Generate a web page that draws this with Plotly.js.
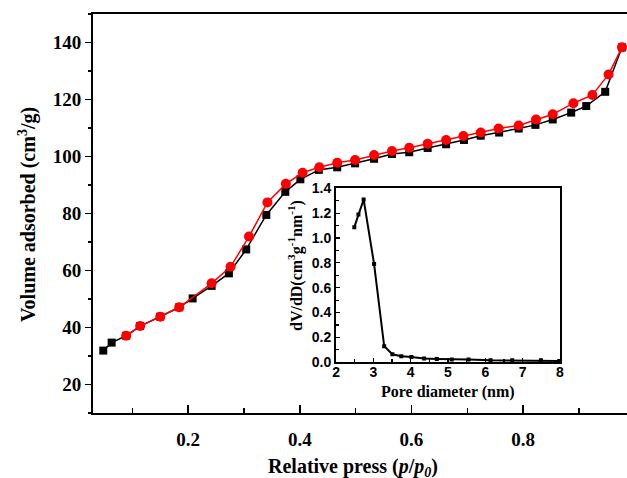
<!DOCTYPE html>
<html><head><meta charset="utf-8">
<script src="https://cdn.plot.ly/plotly-3.0.1.min.js"></script>
<style>body{margin:0;background:#fff}</style>
</head><body>
<div id="chart" style="width:627px;height:478px"></div>
<script>
// Adsorption branch (black squares)
const adsP = [0.048,0.063,0.089,0.114,0.150,0.184,0.208,0.242,0.273,0.304,0.340,0.374,0.401,0.434,0.467,0.499,0.533,0.565,0.596,0.629,0.662,0.694,0.724,0.757,0.792,0.822,0.853,0.886,0.913,0.947,0.977];
const adsV = [31.9,34.7,37.1,40.5,43.8,47.1,50.2,54.6,59.0,67.4,79.5,87.6,92.0,95.3,96.2,97.6,99.2,100.9,101.5,103.0,104.3,105.8,107.3,108.4,109.8,111.1,113.0,115.4,117.7,122.7,138.3];
// Desorption branch (red circles)
const desP = [0.089,0.114,0.150,0.184,0.242,0.276,0.309,0.342,0.375,0.405,0.435,0.467,0.499,0.533,0.565,0.596,0.629,0.662,0.693,0.724,0.756,0.792,0.823,0.853,0.890,0.924,0.953,0.977];
const desV = [37.1,40.5,43.8,47.1,55.5,61.3,71.9,83.9,90.4,94.3,96.2,97.8,98.8,100.5,101.9,103.1,104.5,105.8,107.2,108.4,109.8,110.9,113.0,114.8,118.7,121.6,128.8,138.3];
// Pore size distribution (inset)
const poreD = [2.49,2.60,2.74,3.02,3.29,3.51,3.75,4.02,4.36,4.70,5.10,5.55,6.14,6.72,7.49,7.98];
const poreV = [1.087,1.19,1.31,0.79,0.13,0.065,0.049,0.043,0.030,0.027,0.022,0.022,0.016,0.016,0.016,0.010];

const serif = 'Liberation Serif, Times New Roman, serif';
const sans = 'Liberation Sans, Arial, sans-serif';

const traces = [
  {x: adsP, y: adsV, type:'scatter', mode:'lines+markers', xaxis:'x', yaxis:'y',
   line:{color:'#000', width:1.5}, marker:{symbol:'square', size:8, color:'#000'}},
  {x: desP, y: desV, type:'scatter', mode:'lines+markers', xaxis:'x', yaxis:'y',
   line:{color:'#ff0000', width:1.5}, marker:{symbol:'circle', size:10, color:'#ff0000'}},
  {x: poreD, y: poreV, type:'scatter', mode:'lines+markers', xaxis:'x2', yaxis:'y2',
   line:{color:'#000', width:2}, marker:{symbol:'square', size:4, color:'#000'}}
];

const layout = {
  width:627, height:478,
  margin:{l:93, r:0, t:14, b:65},
  paper_bgcolor:'#fff', plot_bgcolor:'#fff',
  showlegend:false,
  xaxis:{range:[0.0296,0.986], showgrid:false, zeroline:false, showline:true, linewidth:2, linecolor:'#000', mirror:true,
    ticks:'inside', ticklen:8, tickwidth:1.5, tickcolor:'#000', tick0:0, dtick:0.2, tickformat:'.1f',
    minor:{dtick:0.1, tick0:0, ticks:'inside', ticklen:5, tickwidth:1.5, tickcolor:'#000'},
    tickfont:{family:serif, size:19, color:'#000', weight:'bold'}, ticklabelstandoff:8},
  yaxis:{range:[10,150], showgrid:false, zeroline:false, showline:true, linewidth:2, linecolor:'#000', mirror:false,
    ticks:'outside', ticklen:6, tickwidth:1.5, tickcolor:'#000', tick0:0, dtick:20,
    minor:{dtick:10, tick0:0, ticks:'outside', ticklen:3, tickwidth:1.5, tickcolor:'#000'},
    tickfont:{family:serif, size:19, color:'#000', weight:'bold'}},
  xaxis2:{domain:[0.4551,0.8745], anchor:'y2', range:[2,8], showgrid:false, zeroline:false, showline:true, linewidth:2, linecolor:'#000', mirror:true,
    ticks:'inside', ticklen:4, tickwidth:1.2, tickcolor:'#000', tick0:0, dtick:1,
    minor:{dtick:0.5, tick0:0, ticks:'inside', ticklen:3, tickwidth:1.2, tickcolor:'#000'},
    tickfont:{family:sans, size:14, color:'#000', weight:'bold'}, ticklabelstandoff:-4},
  yaxis2:{domain:[0.1271,0.5632], anchor:'x2', range:[0,1.4], showgrid:false, zeroline:false, showline:true, linewidth:2, linecolor:'#000', mirror:true,
    ticks:'inside', ticklen:4, tickwidth:1.2, tickcolor:'#000', tick0:0, dtick:0.2, tickformat:'.1f',
    minor:{dtick:0.1, tick0:0, ticks:'inside', ticklen:3, tickwidth:1.2, tickcolor:'#000'},
    tickfont:{family:sans, size:14, color:'#000', weight:'bold'}, ticklabelstandoff:0},
  annotations:[
    {text:'<b>Volume adsorbed (cm<sup>3</sup>/g)</b>', xref:'paper', yref:'paper', x:-0.1236, y:0.4987,
     xanchor:'center', yanchor:'middle', textangle:-90, showarrow:false, font:{family:serif, size:20, color:'#000'}},
    {text:'<b>Relative press (<i>p</i>/<i>p</i><sub><i>0</i></sub>)</b>', xref:'paper', yref:'paper', x:0.4869, y:-0.136,
     xanchor:'center', yanchor:'middle', showarrow:false, font:{family:serif, size:20, color:'#000'}},
    {text:'<b>dV/dD(cm<sup>3</sup>g<sup>-1</sup>nm<sup>-1</sup>)</b>', xref:'paper', yref:'paper', x:0.3783, y:0.3684,
     xanchor:'center', yanchor:'middle', textangle:-90, showarrow:false, font:{family:serif, size:16, color:'#000'}},
    {text:'<b>Pore diameter (nm)</b>', xref:'paper', yref:'paper', x:0.6648, y:0.0534,
     xanchor:'center', yanchor:'middle', showarrow:false, font:{family:serif, size:16, color:'#000'}}
  ]
};

Plotly.newPlot('chart', traces, layout, {displayModeBar:false, staticPlot:true});
</script>
</body></html>
